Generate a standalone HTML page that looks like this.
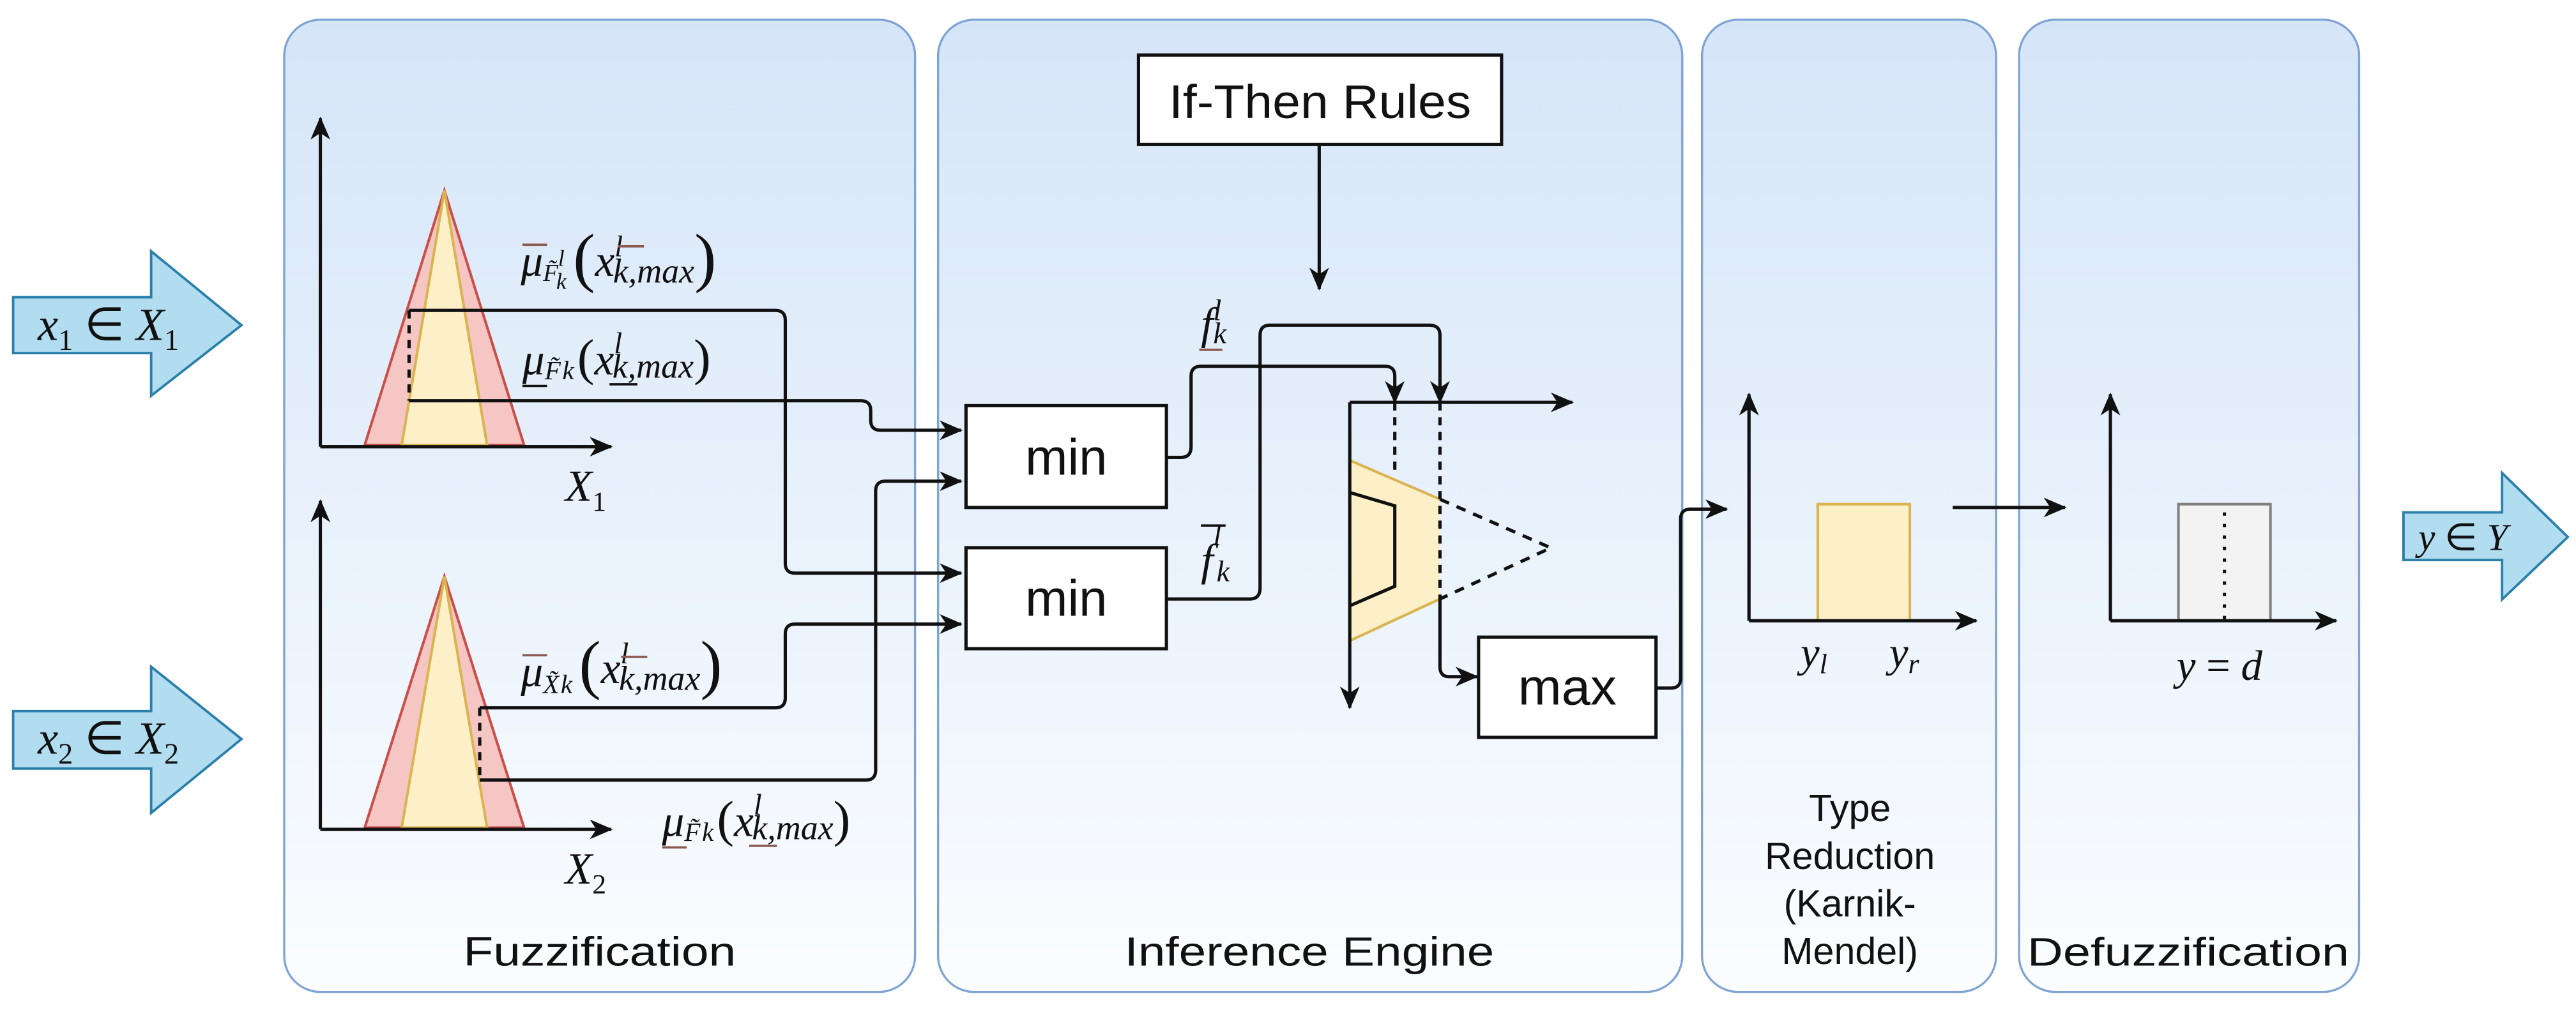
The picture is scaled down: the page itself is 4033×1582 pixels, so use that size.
<!DOCTYPE html>
<html><head><meta charset="utf-8"><style>
html,body{margin:0;padding:0;background:#fff;}
svg{display:block;}
.t{font-family:"Liberation Sans",Arial,sans-serif;fill:#111;}
.m{font-family:"Liberation Serif",serif;font-style:italic;fill:#111;}
</style></head><body>
<svg width="4033" height="1582" viewBox="0 0 1568 615" preserveAspectRatio="none" xmlns="http://www.w3.org/2000/svg">
<defs>
<linearGradient id="pg" x1="0" y1="0" x2="0" y2="1">
<stop offset="0" stop-color="#d5e5f8"/><stop offset="1" stop-color="#fbfdff"/>
</linearGradient>
<marker id="a" markerUnits="userSpaceOnUse" markerWidth="16" markerHeight="14" refX="13" refY="6" orient="auto">
<path d="M0,0 L14,6 L0,12 L4,6 Z" fill="#111"/>
</marker>
</defs>
<rect width="1568" height="615" fill="#fff"/>
<g fill="url(#pg)" stroke="#7fa3d4" stroke-width="1.3">
<rect x="173" y="12" width="384" height="592" rx="22"/>
<rect x="571" y="12" width="453" height="592" rx="22"/>
<rect x="1036" y="12" width="179" height="592" rx="22"/>
<rect x="1229" y="12" width="207" height="592" rx="22"/>
</g>
<g fill="#b2ddf0" stroke="#2a80ab" stroke-width="1.5">
<path d="M8,181 H92 V153 L147,198 L92,241 V215 H8 Z"/>
<path d="M8,433 H92 V406 L147,450 L92,495 V468 H8 Z"/>
<path d="M1463,312 H1523 V288 L1563,327 L1523,365 V341 H1463 Z"/>
</g>
<text class="m" x="23" y="207" font-size="28">x<tspan font-size="18" font-style="normal" dy="6">1</tspan><tspan dy="-6" font-style="normal"> ∈ </tspan>X<tspan font-size="18" font-style="normal" dy="6">1</tspan></text>
<text class="m" x="23" y="459" font-size="28">x<tspan font-size="18" font-style="normal" dy="6">2</tspan><tspan dy="-6" font-style="normal"> ∈ </tspan>X<tspan font-size="18" font-style="normal" dy="6">2</tspan></text>
<text class="m" x="1472" y="335" font-size="23">y<tspan font-style="normal"> ∈ </tspan>Y</text>

<g stroke="#111" stroke-width="2" fill="none">
<path d="M195,272 V72" marker-end="url(#a)"/>
<path d="M195,272 H372" marker-end="url(#a)"/>
<path d="M195,505 V305" marker-end="url(#a)"/>
<path d="M195,505 H372" marker-end="url(#a)"/>
</g>
<polygon points="222,271 270.5,116 319,271" fill="#f6c6c4" stroke="#c8504c" stroke-width="1.6"/>
<polygon points="244.5,271 270.5,116 296.5,271" fill="#fdf0c8" stroke="#d9b450" stroke-width="1.6"/>
<polygon points="222,504 270.5,351 319,504" fill="#f6c6c4" stroke="#c8504c" stroke-width="1.6"/>
<polygon points="244.5,504 270.5,351 296.5,504" fill="#fdf0c8" stroke="#d9b450" stroke-width="1.6"/>
<g stroke="#111" stroke-width="2" fill="none">
<path d="M195,272 H372"/><path d="M195,505 H372"/>
<path d="M249,189 V244" stroke-dasharray="5,4"/>
<path d="M292,431 V475" stroke-dasharray="5,4"/>
<path d="M249,189 H472 Q478,189 478,195 V343 Q478,349 484,349 H585" marker-end="url(#a)"/>
<path d="M249,244 H524 Q530,244 530,250 V256 Q530,262 536,262 H585" marker-end="url(#a)"/>
<path d="M292,431 H472 Q478,431 478,425 V386 Q478,380 484,380 H585" marker-end="url(#a)"/>
<path d="M292,475 H527 Q533,475 533,469 V299 Q533,293 539,293 H585" marker-end="url(#a)"/>
</g>
<text class="m" x="344" y="305" font-size="27">X<tspan font-size="17" font-style="normal" dy="6">1</tspan></text>
<text class="m" x="344" y="538" font-size="27">X<tspan font-size="17" font-style="normal" dy="6">2</tspan></text>

<g class="m">
<text x="317" y="168" font-size="27">μ<tspan font-size="15" dy="3">F̃</tspan><tspan font-size="14" dy="-9">l</tspan><tspan font-size="14" dx="-5" dy="14">k</tspan><tspan font-size="40" font-style="normal" dy="-6" dx="4">(</tspan><tspan font-size="27" dy="-2">x</tspan><tspan font-size="18" dy="-12">l</tspan><tspan font-size="21" dx="-6" dy="16">k,max</tspan><tspan font-size="40" font-style="normal" dy="-2">)</tspan></text>
<line x1="318" y1="149" x2="333" y2="149" stroke="#8a5a50" stroke-width="1.4"/>
<line x1="376" y1="150" x2="392" y2="150" stroke="#8a5a50" stroke-width="1.4"/>
<text x="318" y="228" font-size="27">μ<tspan font-size="16" dy="3">F̃</tspan><tspan font-size="16" dx="1">k</tspan><tspan font-size="31" font-style="normal" dy="-3" dx="2">(</tspan><tspan font-size="27">x</tspan><tspan font-size="18" dy="-13">l</tspan><tspan font-size="21" dx="-6" dy="15">k,max</tspan><tspan font-size="31" font-style="normal" dy="-2">)</tspan></text>
<line x1="318" y1="235" x2="333" y2="235" stroke="#111" stroke-width="1.4"/>
<line x1="371" y1="234" x2="388" y2="234" stroke="#111" stroke-width="1.4"/>
<text x="317" y="418" font-size="27">μ<tspan font-size="16" dy="4">X̃</tspan><tspan font-size="16" dx="1">k</tspan><tspan font-size="40" font-style="normal" dy="-4" dx="4">(</tspan><tspan font-size="27" dy="-2">x</tspan><tspan font-size="18" dy="-12">l</tspan><tspan font-size="21" dx="-6" dy="16">k,max</tspan><tspan font-size="40" font-style="normal" dy="-2">)</tspan></text>
<line x1="318" y1="399" x2="333" y2="399" stroke="#8a5a50" stroke-width="1.4"/>
<line x1="378" y1="400" x2="394" y2="400" stroke="#8a5a50" stroke-width="1.4"/>
<text x="403" y="509" font-size="27">μ<tspan font-size="16" dy="3">F̃</tspan><tspan font-size="16" dx="1">k</tspan><tspan font-size="31" font-style="normal" dy="-3" dx="2">(</tspan><tspan font-size="27">x</tspan><tspan font-size="18" dy="-13">l</tspan><tspan font-size="21" dx="-6" dy="15">k,max</tspan><tspan font-size="31" font-style="normal" dy="-2">)</tspan></text>
<line x1="403" y1="516" x2="418" y2="516" stroke="#8a5a50" stroke-width="1.4"/>
<line x1="456" y1="515" x2="473" y2="515" stroke="#8a5a50" stroke-width="1.4"/>
</g>

<g fill="#fff" stroke="#111" stroke-width="2">
<rect x="693" y="33.5" width="221" height="54.5"/>
<rect x="588" y="247" width="122" height="62"/>
<rect x="588" y="333.5" width="122" height="61.5"/>
<rect x="900" y="388" width="108" height="61"/>
</g>
<text class="t" x="803.5" y="72" font-size="29" text-anchor="middle" textLength="184" lengthAdjust="spacingAndGlyphs">If-Then Rules</text>
<text class="t" x="649" y="289" font-size="31" text-anchor="middle" textLength="50" lengthAdjust="spacingAndGlyphs">min</text>
<text class="t" x="649" y="375" font-size="31" text-anchor="middle" textLength="50" lengthAdjust="spacingAndGlyphs">min</text>
<text class="t" x="954" y="429" font-size="31" text-anchor="middle" textLength="60" lengthAdjust="spacingAndGlyphs">max</text>

<polygon points="822,280.5 876.5,304 876.5,364.7 822,390" fill="#fdf0c8" stroke="none"/>
<path d="M822,280.5 L876.5,304 M876.5,364.7 L822,390" stroke="#d9b450" stroke-width="1.6" fill="none"/>
<g stroke="#111" stroke-width="2" fill="none">
<path d="M822,300 L849,308 V357 L822,368.7"/>
<path d="M876.5,304 L944,333.6 L876.5,364.7" stroke-dasharray="6,5"/>
<path d="M849,245 V290" stroke-dasharray="5,4"/>
<path d="M876.5,245 V364" stroke-dasharray="5,4"/>
<path d="M876.5,364 V406 Q876.5,412 882,412 H899" marker-end="url(#a)"/>
<path d="M821.6,245 V431" marker-end="url(#a)"/>
<path d="M821.6,245 H957" marker-end="url(#a)"/>
<path d="M803,88 V176" marker-end="url(#a)"/>
<path d="M710,278.5 H719 Q725,278.5 725,272 V229 Q725,223 731,223 H843 Q849,223 849,229 V245" marker-end="url(#a)"/>
<path d="M710,364.7 H761 Q767,364.7 767,358 V204 Q767,198 773,198 H870 Q876.5,198 876.5,204 V245" marker-end="url(#a)"/>
<path d="M1008,419 H1017 Q1023,419 1023,413 V316 Q1023,310 1029,310 H1051" marker-end="url(#a)"/>
</g>
<text class="m" x="731" y="206" font-size="27">f<tspan font-size="18" dy="-11">l</tspan><tspan font-size="18" dx="-5" dy="14">k</tspan></text>
<line x1="730" y1="213" x2="744" y2="213" stroke="#8a5a50" stroke-width="1.4"/>
<text class="m" x="731" y="350" font-size="27">f<tspan font-size="18" dy="-18">l</tspan><tspan font-size="18" dx="-3" dy="22">k</tspan></text>
<line x1="731" y1="320" x2="746" y2="320" stroke="#111" stroke-width="1.4"/>

<rect x="1106.5" y="307" width="56" height="71" fill="#fdf0c8" stroke="#d9b450" stroke-width="1.6"/>
<g stroke="#111" stroke-width="2" fill="none">
<path d="M1064.6,378 V240" marker-end="url(#a)"/>
<path d="M1064.6,378 H1203" marker-end="url(#a)"/>
<path d="M1188.6,309 H1257" marker-end="url(#a)"/>
</g>
<text class="m" x="1096" y="406" font-size="26">y<tspan font-size="17" dy="4">l</tspan></text>
<text class="m" x="1150" y="406" font-size="26">y<tspan font-size="17" dy="4">r</tspan></text>

<rect x="1326" y="307" width="56" height="71" fill="#f3f3f3" stroke="#808080" stroke-width="1.6"/>
<path d="M1354,312 V377" stroke="#111" stroke-width="2" stroke-dasharray="2,5" fill="none"/>
<g stroke="#111" stroke-width="2" fill="none">
<path d="M1284.6,378 V240" marker-end="url(#a)"/>
<path d="M1284.6,378 H1422" marker-end="url(#a)"/>
</g>
<text class="m" x="1351" y="414" font-size="26" text-anchor="middle">y<tspan font-style="normal"> = </tspan>d</text>

<text class="t" x="365" y="588" font-size="25" text-anchor="middle" textLength="166" lengthAdjust="spacingAndGlyphs">Fuzzification</text>
<text class="t" x="797" y="588" font-size="25" text-anchor="middle" textLength="225" lengthAdjust="spacingAndGlyphs">Inference Engine</text>
<text class="t" x="1126" y="500" font-size="23" text-anchor="middle">Type</text>
<text class="t" x="1126" y="529" font-size="23" text-anchor="middle">Reduction</text>
<text class="t" x="1126" y="558" font-size="23" text-anchor="middle">(Karnik-</text>
<text class="t" x="1126" y="587" font-size="23" text-anchor="middle">Mendel)</text>
<text class="t" x="1332" y="588" font-size="24" text-anchor="middle" textLength="196" lengthAdjust="spacingAndGlyphs">Defuzzification</text>
</svg>
</body></html>
